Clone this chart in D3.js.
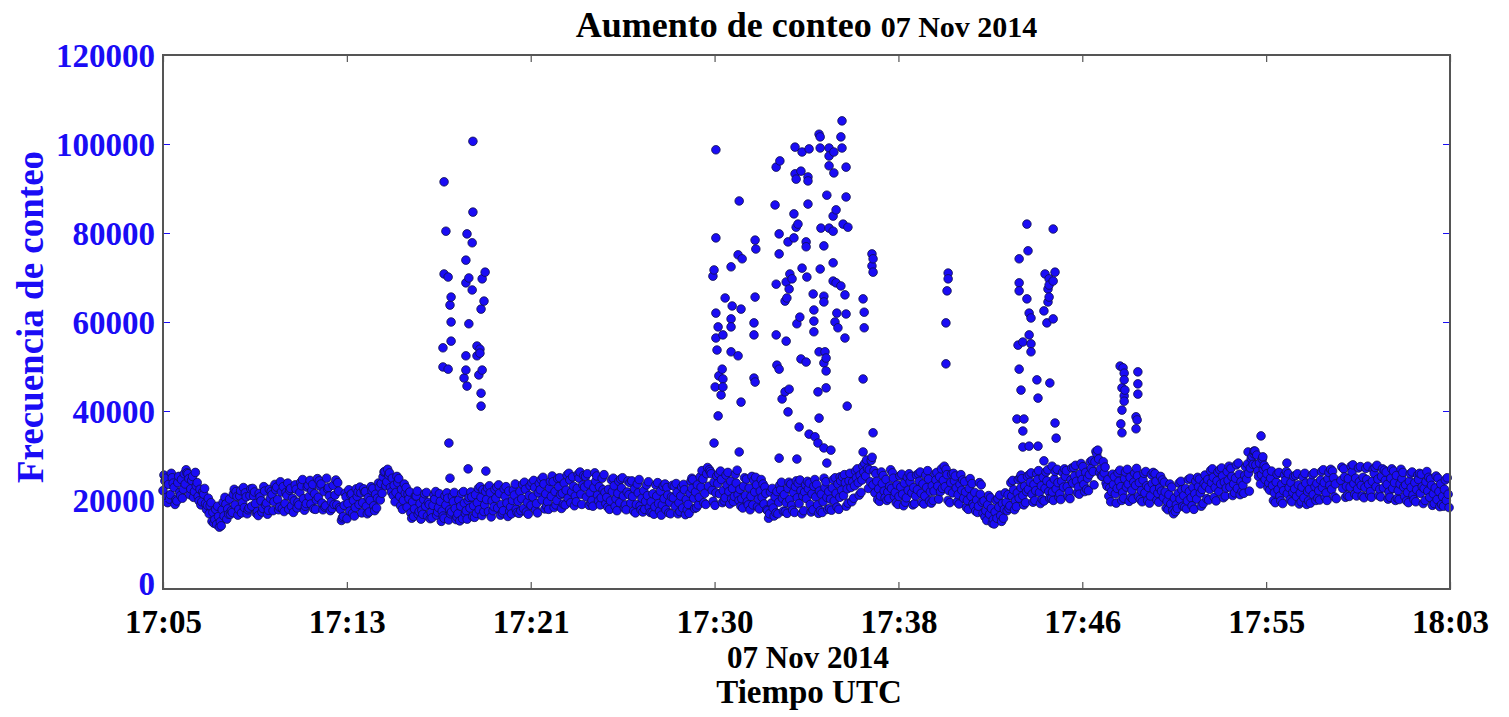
<!DOCTYPE html>
<html>
<head>
<meta charset="utf-8">
<script src="https://cdn.jsdelivr.net/npm/d3@7/dist/d3.min.js"></script>
<style>
  html, body { margin: 0; padding: 0; background: #fff; }
  svg { display: block; }
  text { font-family: "Liberation Serif", "Times New Roman", serif; font-weight: bold; }
</style>
</head>
<body>
<svg id="chart" width="1509" height="717"></svg>
<script>
// Start of the record: 07 Nov 2014 17:05:00 UTC; all times below are seconds from it.
const startUTC = Date.UTC(2014, 10, 7, 17, 5, 0);
const spanSeconds = 3480; // 17:05 -> 18:03

// Background count rate (thousands of counts), one row per minute.
// Set A is sampled at :00, :05, :10 ... ; set B at :02.5, :07.5, ...
const sampleStep = 5;
const baselineA = [
  [22.1,24.3,20.6,23.5,21.2,25.0,22.8,20.1,23.9,21.7,24.6,22.4],
  [23.6,26.1,24.8,22.5,25.3,21.9,23.2,20.8,22.4,19.6,21.3,19.2],
  [18.8,16.9,19.4,17.2,15.6,14.5,16.3,15.1,17.8,16.4,19.1,18.0],
  [20.2,17.6,21.3,18.9,20.8,17.9,22.1,19.4,18.3,20.7,17.8,21.0],
  [18.6,20.9,19.2,17.4,21.5,19.8,18.1,22.0,19.3,17.7,20.4,21.2],
  [19.6,22.3,20.1,18.4,21.8,23.0,19.2,21.0,17.9,22.6,20.4,19.8],
  [22.4,19.5,21.7,23.2,20.3,18.6,22.9,20.8,19.1,23.5,21.4,20.0],
  [20.6,23.1,19.3,21.9,18.7,22.5,20.9,19.6,23.3,21.1,18.9,22.0],
  [17.9,16.0,18.8,20.7,19.2,17.5,21.4,19.9,18.3,20.8,19.0,21.6],
  [19.4,21.8,18.6,20.5,19.9,22.1,18.7,21.3,20.4,22.9,23.7,25.2],
  [26.4,24.1,25.6,22.8,24.9,23.3,21.7,23.9,20.8,22.4,19.9,21.5],
  [18.4,20.3,17.1,19.6,18.0,20.9,16.8,19.2,17.7,20.1,18.6,16.4],
  [19.0,17.2,18.8,20.2,16.6,18.3,19.7,17.5,15.9,18.9,20.4,17.8],
  [17.3,19.6,18.1,16.2,20.0,18.6,15.8,19.3,17.6,19.9,18.2,20.7],
  [18.7,21.2,19.4,17.8,20.6,22.3,18.9,20.1,17.4,21.6,19.8,18.5],
  [20.4,18.2,21.5,19.0,17.6,20.8,19.3,22.0,18.4,19.9,21.1,17.9],
  [19.7,21.9,20.3,18.1,22.4,19.5,21.0,18.8,20.7,22.8,19.2,21.6],
  [22.3,20.0,23.6,21.4,19.6,22.7,20.8,24.1,21.9,19.9,23.0,21.2],
  [21.5,23.8,22.2,20.4,24.5,21.8,23.1,20.9,22.6,24.9,21.3,23.4],
  [22.9,20.7,23.6,21.6,19.9,22.8,24.2,21.1,23.0,20.5,22.3,21.7],
  [20.6,22.4,19.8,21.9,23.2,20.3,21.5,19.4,22.7,20.9,18.9,21.8],
  [21.2,19.3,20.8,22.5,19.0,21.6,18.7,20.4,22.1,19.7,21.0,18.4],
  [19.6,21.4,18.5,20.9,19.2,22.0,18.9,20.3,17.8,21.1,19.5,20.7],
  [20.5,18.6,21.7,19.4,20.9,18.2,22.3,20.1,19.0,21.5,22.6,20.4],
  [21.8,23.4,20.6,22.9,24.7,21.5,25.9,23.1,26.4,22.2,24.0,21.6],
  [23.7,21.4,24.6,22.1,20.5,23.3,21.9,24.2,22.6,20.8,23.8,21.2],
  [22.4,20.3,23.1,21.0,19.6,22.7,20.8,18.9,21.8,23.4,20.2,22.0],
  [20.6,19.1,21.5,17.6,16.9,19.3,18.2,20.7,21.9,19.5,22.3,20.4],
  [21.2,19.4,22.6,20.1,18.8,21.7,23.0,20.5,19.2,22.1,20.9,21.8],
  [20.3,22.5,19.0,21.4,23.1,20.7,18.9,22.0,21.3,19.6,22.8,20.6],
  [21.9,20.2,22.7,19.8,21.5,23.6,20.6,22.2,21.0,23.9,22.5,24.3],
  [22.8,24.1,23.2,25.0,23.9,25.6,24.5,26.3,25.4,27.1,26.8,28.9],
  [23.4,21.6,24.2,22.5,20.9,23.7,22.0,24.6,21.8,23.1,22.6,24.9],
  [21.7,23.4,20.8,22.9,21.3,23.8,20.5,22.2,24.1,21.6,22.8,20.9],
  [22.3,24.2,21.5,23.6,20.9,22.8,24.7,21.9,23.2,22.0,24.5,23.1],
  [25.2,27.0,24.4,23.0,25.7,22.1,23.9,21.6,24.3,22.7,21.2,23.5],
  [22.2,20.4,21.8,19.9,22.6,20.8,19.1,21.7,20.0,18.6,21.3,19.5],
  [19.8,17.6,18.9,16.8,18.1,15.6,17.3,15.9,18.4,16.5,19.2,17.9],
  [19.5,21.2,18.7,20.9,22.3,19.8,21.6,20.4,22.8,21.0,23.1,21.9],
  [22.4,24.0,21.3,23.5,22.1,24.6,21.7,23.2,25.1,22.6,24.3,21.9],
  [23.6,21.8,24.7,22.5,23.9,21.4,24.2,22.9,25.3,23.0,21.9,24.5],
  [23.8,25.4,24.2,22.9,25.9,24.6,23.5,26.2,24.9,25.7,27.1,26.4],
  [28.6,30.4,29.2,27.0,25.3,26.1,23.8,24.6,22.7,21.9,23.5,21.4],
  [22.6,24.2,23.0,21.7,24.8,22.9,23.6,25.1,22.2,24.0,23.3,25.4],
  [23.9,22.1,24.5,21.6,23.2,22.8,20.9,23.7,22.3,24.2,21.5,22.7],
  [22.0,20.6,21.8,19.7,21.2,19.1,17.6,20.4,18.9,21.5,20.2,22.3],
  [21.0,22.6,19.8,21.9,20.5,22.8,21.4,20.2,23.0,21.6,22.4,23.7],
  [23.2,24.6,22.4,23.9,25.1,22.8,24.3,21.9,23.6,25.4,24.0,22.7],
  [24.4,22.9,25.3,23.6,24.9,22.6,25.8,24.1,23.3,25.5,24.7,26.0],
  [27.2,29.8,30.4,27.9,26.5,28.3,25.7,26.9,24.6,25.9,23.8,24.9],
  [23.2,21.6,24.0,22.3,20.9,23.5,22.1,24.4,21.4,22.8,23.9,21.7],
  [22.5,20.8,23.4,21.6,22.9,20.5,23.8,21.9,22.4,24.1,21.2,23.0],
  [23.7,22.1,24.5,22.8,23.9,21.6,24.8,23.3,22.4,25.0,23.6,null],
  [null,24.4,22.6,25.2,23.1,24.8,22.9,26.3,23.7,24.9,22.5,24.1],
  [23.3,25.1,22.8,24.6,23.5,21.9,24.2,26.0,23.0,24.7,22.4,25.3],
  [22.7,24.4,23.5,21.8,24.9,22.6,23.9,25.5,22.1,23.6,24.8,22.9],
  [23.4,21.7,24.2,22.8,21.1,23.9,22.3,24.6,21.5,23.0,22.6,24.1],
  [22.0,20.6,23.3,21.4,22.7,20.1,21.9,23.6,20.8,22.4,19.9,21.3]
];
const baselineB = [
  [25.6,24.9,19.4,20.2,26.0,23.8,19.0,19.8,25.3,21.0,20.4,25.9],
  [26.8,25.9,21.2,24.4,20.6,26.2,23.9,19.8,18.9,21.8,22.6,17.9],
  [20.4,18.7,15.2,14.8,17.9,18.6,13.9,14.2,19.5,20.6,15.7,16.8],
  [16.8,17.2,22.4,21.9,16.6,20.9,17.1,22.8,21.6,16.9,18.2,22.5],
  [22.6,21.8,17.0,16.5,20.7,17.3,23.0,18.9,16.8,22.4,21.9,17.6],
  [23.5,22.9,17.8,24.1,18.1,17.4,21.7,23.8,22.2,18.6,17.2,23.4],
  [18.2,18.9,24.0,24.6,17.7,19.2,23.3,24.4,22.1,18.0,17.9,24.8],
  [24.3,23.6,17.8,18.4,24.9,22.8,17.6,18.1,19.0,24.5,23.9,18.3],
  [15.4,16.3,21.5,15.8,22.3,21.2,17.0,16.4,22.5,21.8,22.9,17.1],
  [22.5,21.9,16.9,17.3,23.0,22.6,17.6,18.2,23.8,20.0,21.5,26.3],
  [23.2,26.9,26.1,21.8,21.0,19.6,25.3,24.8,18.7,17.9,23.6,22.8],
  [21.3,21.8,15.9,16.3,20.9,22.0,17.4,15.7,16.8,21.4,21.7,19.5],
  [15.8,16.0,21.1,21.9,17.3,21.4,15.2,16.4,20.9,21.6,15.5,16.9],
  [20.8,21.7,15.6,16.9,15.3,21.5,21.9,17.0,15.7,20.6,21.8,16.3],
  [16.1,17.0,22.6,23.0,16.5,17.4,21.9,22.7,23.2,16.2,17.6,22.4],
  [22.9,23.4,16.6,17.1,22.5,23.0,16.3,17.5,16.9,22.2,23.6,17.2],
  [17.0,17.6,23.5,24.0,17.3,16.8,23.2,23.9,24.4,17.8,17.1,23.7],
  [24.6,25.1,18.0,18.6,17.9,24.2,25.4,18.3,18.9,24.8,25.0,18.1],
  [19.1,18.9,25.6,26.0,19.4,25.2,18.7,19.6,25.8,26.3,19.0,25.5],
  [25.3,25.9,18.8,19.3,18.6,26.1,25.4,19.8,18.9,24.9,25.7,19.2],
  [18.4,17.9,24.5,24.9,18.6,17.6,24.2,24.7,25.0,18.2,17.8,24.3],
  [23.9,24.3,17.5,17.1,23.6,24.6,17.8,17.3,17.9,23.4,24.1,17.2],
  [17.2,16.8,23.4,23.9,17.5,16.6,23.1,23.6,22.8,17.1,16.9,23.3],
  [23.1,23.7,16.9,17.4,22.9,23.5,16.7,17.8,17.0,24.2,24.6,18.1],
  [18.3,18.9,25.2,26.6,19.4,19.0,27.3,26.8,25.9,19.7,18.8,25.4],
  [25.9,26.5,19.4,19.8,25.6,26.2,19.1,20.3,19.6,25.8,26.7,19.9],
  [18.6,18.2,25.0,24.7,18.9,17.8,25.3,24.4,25.1,18.5,18.0,24.6],
  [23.6,22.9,17.8,15.9,21.8,22.6,16.4,17.1,16.9,23.3,24.0,17.5],
  [17.4,17.0,24.0,23.6,17.7,17.2,24.3,23.8,24.5,16.9,17.6,23.4],
  [24.2,23.8,17.3,17.8,24.6,23.5,17.0,17.6,17.2,24.9,24.1,17.9],
  [18.1,17.7,24.6,25.0,18.4,17.9,24.3,25.2,25.7,18.6,19.3,26.0],
  [19.6,20.4,26.5,27.0,21.1,21.7,27.6,28.2,29.0,22.6,24.1,29.6],
  [26.6,25.9,20.1,19.7,26.3,25.5,20.5,19.9,20.3,26.8,26.1,20.8],
  [19.4,19.0,25.4,25.8,18.7,19.5,25.1,25.9,25.3,18.9,19.2,25.6],
  [25.9,26.3,19.5,19.1,25.6,26.6,19.8,19.3,19.9,25.8,26.2,20.2],
  [21.9,22.6,27.6,26.9,19.9,19.4,25.8,26.0,25.4,19.6,19.1,25.7],
  [24.5,24.1,18.3,17.9,24.8,23.7,18.6,17.5,17.2,23.9,23.4,17.0],
  [16.2,15.4,21.0,20.5,14.8,14.6,19.9,20.3,21.1,15.2,15.9,21.6],
  [17.6,18.1,23.9,24.4,17.8,18.5,24.6,25.0,24.8,18.9,19.4,25.3],
  [25.7,26.1,19.5,19.9,25.9,26.6,19.2,20.1,19.8,26.3,26.8,20.4],
  [20.4,19.9,26.4,26.9,20.6,20.1,26.2,27.0,26.6,20.8,20.3,27.2],
  [27.3,27.8,21.6,21.3,28.2,27.5,21.9,22.4,22.1,28.6,28.9,23.4],
  [30.9,31.2,26.2,25.4,28.6,27.4,23.1,20.9,19.6,25.8,25.2,19.3],
  [26.1,26.7,19.9,20.4,26.3,26.9,19.7,20.6,20.2,26.0,27.1,20.8],
  [20.1,19.6,26.0,26.4,19.9,19.3,25.7,26.2,25.9,20.0,19.5,25.3],
  [24.5,24.0,18.2,17.8,23.6,22.9,16.9,17.4,18.1,23.8,24.2,18.6],
  [18.4,18.0,24.6,24.9,18.7,17.9,24.2,25.1,24.7,18.6,19.2,25.6],
  [20.3,20.0,26.6,27.0,20.6,19.8,26.3,26.8,27.2,20.5,20.9,26.4],
  [27.6,27.1,21.0,21.6,27.9,28.3,21.2,21.9,21.5,27.4,28.1,22.0],
  [29.3,28.0,31.0,30.1,25.3,23.6,29.2,27.8,27.2,22.8,22.2,26.5],
  [19.9,19.4,25.8,26.2,19.8,19.2,25.6,26.4,25.9,20.1,19.6,25.3],
  [25.5,25.9,19.1,19.6,25.2,26.0,19.0,19.8,19.3,25.7,26.1,19.9],
  [20.4,20.0,26.4,26.8,20.6,19.9,26.2,26.9,26.5,20.7,20.3,null],
  [null,27.4,27.0,20.6,21.0,20.8,27.6,27.9,21.3,20.9,27.2,27.5],
  [20.9,20.5,27.1,27.6,21.2,20.6,26.9,27.3,27.8,21.0,20.7,27.0],
  [26.7,26.3,20.2,20.6,27.0,26.5,19.9,20.4,20.1,26.9,26.2,20.8],
  [19.8,19.4,25.9,26.3,20.1,19.6,25.6,26.0,25.8,19.2,19.9,26.4],
  [25.1,24.7,18.8,19.2,25.4,24.9,18.5,19.0,18.6,24.5,25.0,18.3]
];

// Count-rate bursts: [seconds from 17:05, thousands of counts]
const burst1718 = [
  [760,91.5],[838,84.7],[765,80.4],[822,79.8],[836,77.8],[819,73.9],[760,70.8],[771,70.1],
  [827,69.9],[819,68.8],[871,71.2],[863,69.7],[836,67.2],[779,65.6],[776,63.8],[868,64.7],
  [860,62.9],[779,60.0],[827,59.6],[779,55.7],[757,54.2],[849,54.6],[857,53.9],[857,53.0],
  [849,52.4],[819,52.4],[757,49.9],[771,49.4],[819,49.2],[814,47.4],[863,49.2],[854,48.1],
  [822,45.6],[860,44.0],[860,41.1],[773,32.8],[776,24.9],[825,27.0],[873,26.5],[838,100.6]
];
const burst1730 = [
  [1836,105.2],[1774,102.2],[1777,101.6],[1833,101.6],[1495,98.7],[1709,99.3],[1728,98.2],[1747,98.9],
  [1777,99.1],[1801,99.1],[1814,98.2],[1801,97.3],[1836,99.1],[1668,96.2],[1658,94.8],[1801,95.1],
  [1814,93.5],[1847,94.8],[1709,93.3],[1725,93.9],[1712,92.1],[1744,92.6],[1744,91.7],[1558,87.2],
  [1655,86.3],[1744,86.5],[1795,88.5],[1847,88.1],[1820,85.2],[1812,83.8],[1706,84.3],[1717,82.0],
  [1712,81.3],[1779,81.1],[1801,81.1],[1812,80.4],[1839,82.0],[1852,81.3],[1495,78.9],[1601,78.4],
  [1603,76.4],[1666,79.8],[1690,78.0],[1706,78.9],[1739,78.0],[1739,76.9],[1787,77.1],[1666,75.3],
  [1555,75.1],[1566,74.2],[1536,72.4],[1490,71.7],[1487,70.3],[1812,73.3],[1728,72.1],[1741,70.1],
  [1777,71.9],[1917,75.3],[1920,74.2],[1917,72.6],[1920,71.2],[1695,70.8],[1685,69.0],[1701,69.7],
  [1658,68.5],[1812,69.2],[1820,68.8],[1833,68.1],[1520,65.4],[1539,63.6],[1563,62.9],[1601,65.6],
  [1693,67.4],[1687,65.4],[1682,64.7],[1758,66.3],[1787,65.8],[1787,64.5],[1844,66.1],[1893,65.2],
  [1495,62.0],[1536,60.7],[1501,58.9],[1536,58.9],[1495,56.4],[1514,57.1],[1598,59.8],[1598,57.1],
  [1658,57.1],[1685,55.7],[1722,61.1],[1714,59.6],[1760,62.7],[1760,60.2],[1760,57.8],[1822,62.0],
  [1847,61.8],[1817,60.0],[1825,58.7],[1844,56.4],[1896,62.2],[1896,58.7],[1498,53.7],[1536,53.3],
  [1555,52.4],[1512,49.4],[1503,47.9],[1514,47.2],[1493,45.4],[1514,45.4],[1509,43.6],[1501,38.9],
  [1490,32.8],[1558,30.8],[1563,42.0],[1598,47.4],[1601,46.5],[1660,50.3],[1666,49.4],[1682,44.3],
  [1693,44.9],[1674,42.7],[1690,39.8],[1720,36.4],[1666,29.4],[1714,29.2],[1725,51.7],[1739,51.0],
  [1747,34.8],[1763,34.2],[1771,32.8],[1787,31.7],[1806,31.2],[1795,28.3],[1774,53.3],[1790,53.3],
  [1793,51.9],[1787,50.8],[1793,49.0],[1771,44.3],[1793,45.2],[1774,38.4],[1850,41.1],[1893,47.2],
  [1920,35.1],[1893,30.8],[1831,25.2],[1430,24.9]
];
const burst1741 = [[2123,71.0],[2123,69.7],[2120,67.0],[2117,59.8],[2117,50.6]];
const burst1744 = [
  [2336,82.0],[2407,80.9],[2339,76.0],[2315,74.2],[2385,70.8],[2412,71.2],[2396,69.7],[2407,69.2],
  [2396,68.3],[2393,67.4],[2396,65.6],[2393,64.5],[2315,68.8],[2315,67.0],[2336,65.2],[2342,62.0],
  [2347,60.9],[2382,62.5],[2390,59.8],[2407,60.7],[2342,57.1],[2312,54.8],[2325,55.5],[2347,55.1],
  [2347,53.3],[2315,49.4],[2363,47.0],[2398,46.3],[2320,44.7],[2366,42.9],[2309,38.2],[2328,38.2],
  [2325,35.5],[2412,37.3],[2415,33.9],[2325,31.9],[2342,32.1],[2366,32.1],[2382,28.8],[2404,27.6],
  [2320,25.6]
];
const burst1748 = [
  [2588,50.1],[2596,49.7],[2599,48.5],[2599,47.0],[2593,45.2],[2601,44.7],[2599,43.4],[2599,42.2],
  [2593,40.2],[2590,37.1],[2593,35.1],[2636,48.8],[2636,46.1],[2636,43.8],[2631,38.7],[2634,38.0],
  [2631,36.0]
];
const burst1755 = [[2934,30.8],[2950,31.0],[2969,34.4],[2974,29.7],[3039,28.3]];

const xTickLabels = ["17:05","17:13","17:21","17:30","17:38","17:46","17:55","18:03"];
const yTickValues = [0, 20000, 40000, 60000, 80000, 100000, 120000];

const titleMain = "Aumento de conteo";
const titleDate = "07 Nov 2014";
const xDateLabel = "07 Nov 2014";
const xTitle = "Tiempo UTC";
const yTitle = "Frecuencia de conteo";

// ---- layout ----
const W = 1509, H = 717;
const margin = { top: 55, right: 59, bottom: 128, left: 163 };
const innerW = W - margin.left - margin.right;
const innerH = H - margin.top - margin.bottom;

const toDate = s => new Date(startUTC + s * 1000);

const x = d3.scaleUtc()
  .domain([toDate(0), toDate(spanSeconds)])
  .range([0, innerW]);
const y = d3.scaleLinear()
  .domain([0, 120000])
  .range([innerH, 0]);

// ---- assemble points ----
const points = [];
function addRows(rows, offset) {
  rows.forEach((row, m) => {
    row.forEach((v, k) => {
      if (v !== null) points.push({ t: toDate((m * 12 + k) * sampleStep + offset), v: v * 1000 });
    });
  });
}
addRows(baselineA, 0);
addRows(baselineB, sampleStep / 2);
[burst1718, burst1730, burst1741, burst1744, burst1748, burst1755].forEach(b => {
  b.forEach(([s, v]) => points.push({ t: toDate(s), v: v * 1000 }));
});
points.sort((a, b) => a.t - b.t);

const svg = d3.select("#chart");
const g = svg.append("g").attr("transform", `translate(${margin.left},${margin.top})`);

// ---- markers ----
g.append("g")
  .selectAll("circle")
  .data(points)
  .join("circle")
  .attr("cx", d => x(d.t))
  .attr("cy", d => y(d.v))
  .attr("r", 4.3)
  .attr("fill", "#1a0cf5")
  .attr("stroke", "#10104a")
  .attr("stroke-width", 0.8);

// ---- axes ----
const xTicks = d3.range(xTickLabels.length)
  .map(i => toDate(i * spanSeconds / (xTickLabels.length - 1)));

const axisColor = "#555";
const blue = "#1a0cf5";
const fontFam = "'Liberation Serif', 'Times New Roman', serif";

// bottom
const xb = g.append("g")
  .attr("transform", `translate(0,${innerH})`)
  .call(d3.axisBottom(x).tickValues(xTicks).tickSize(-7).tickPadding(21)
    .tickFormat((d, i) => xTickLabels[i]));
xb.select(".domain").remove();
xb.selectAll(".tick line").attr("stroke", axisColor).attr("stroke-width", 1.2);
xb.selectAll(".tick text")
  .attr("fill", "#000").attr("font-size", 33)
  .attr("font-family", fontFam)
  .attr("font-weight", "bold")
  .attr("dy", "0.71em");

// top (ticks only)
const xt = g.append("g")
  .call(d3.axisTop(x).tickValues(xTicks).tickSize(-7).tickFormat(""));
xt.select(".domain").remove();
xt.selectAll(".tick line").attr("stroke", axisColor).attr("stroke-width", 1.2);

// left; the zero label is lifted a little to clear the time labels
const yl = g.append("g")
  .call(d3.axisLeft(y).tickValues(yTickValues).tickSize(-7).tickPadding(8)
    .tickFormat(d3.format("d")));
yl.select(".domain").remove();
yl.selectAll(".tick line").attr("stroke", blue).attr("stroke-width", 1);
yl.selectAll(".tick text")
  .attr("fill", blue).attr("font-size", 33)
  .attr("font-family", fontFam)
  .attr("font-weight", "bold")
  .attr("dy", "0.34em")
  .attr("y", d => d === 0 ? -6 : 0);

// right (ticks only)
const yr = g.append("g")
  .attr("transform", `translate(${innerW},0)`)
  .call(d3.axisRight(y).tickValues(yTickValues).tickSize(-7).tickFormat(""));
yr.select(".domain").remove();
yr.selectAll(".tick line").attr("stroke", blue).attr("stroke-width", 1);

// frame
g.append("rect")
  .attr("x", 0).attr("y", 0)
  .attr("width", innerW).attr("height", innerH)
  .attr("fill", "none")
  .attr("stroke", axisColor)
  .attr("stroke-width", 2);

// ---- titles ----
const title = svg.append("text")
  .attr("x", margin.left + innerW / 2)
  .attr("y", 37)
  .attr("text-anchor", "middle")
  .attr("fill", "#000");
title.append("tspan").attr("font-size", 36).text(titleMain + " ");
title.append("tspan").attr("font-size", 30).text(titleDate);

svg.append("text")
  .attr("x", 808).attr("y", 668)
  .attr("text-anchor", "middle")
  .attr("font-size", 31)
  .attr("fill", "#000")
  .text(xDateLabel);

svg.append("text")
  .attr("x", 809).attr("y", 703)
  .attr("text-anchor", "middle")
  .attr("font-size", 33)
  .attr("fill", "#000")
  .text(xTitle);

svg.append("text")
  .attr("transform", "translate(43,317) rotate(-90)")
  .attr("text-anchor", "middle")
  .attr("font-size", 37)
  .attr("fill", blue)
  .text(yTitle);
</script>
</body>
</html>
